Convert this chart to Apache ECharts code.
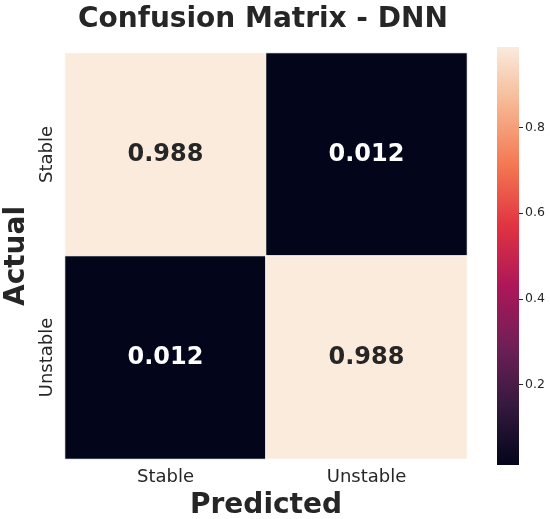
<!DOCTYPE html>
<html>
<head>
    <meta charset="utf-8">
    <script src="https://cdn.jsdelivr.net/npm/echarts@6/dist/echarts.min.js"></script>
    <style type="text/css">
        #main {height:519px;width:550px;position:absolute;}
        body {margin:0px;padding:0px;overflow:hidden;background:#fff;}
    </style>
</head>
<body>
<div id="main"></div>
<script type="text/javascript">
    // data
    const categories = ['Stable', 'Unstable'];
    const matrix = [            // rows = actual, cols = predicted
        [0.988, 0.012],
        [0.012, 0.988]
    ];
    const cbarMin = 0.012;
    const cbarMax = 0.988;
    const cbarTicks = [0.2, 0.4, 0.6, 0.8];

    // seaborn "rocket" colormap, evenly spaced stops
    const rocket = ['#03051a', '#35193e', '#701f57', '#ad1759', '#e13342', '#f37651', '#f6b48f', '#faebdd'];
    const txt = '#262626';
    const font = 'DejaVu Sans';

    let cells = [];
    for (let r = 0; r < matrix.length; r++) {
        for (let c = 0; c < matrix[r].length; c++) {
            let v = matrix[r][c];
            cells.push({
                value: [c, r, v],
                label: {color: v > 0.5 ? txt : '#ffffff'}
            });
        }
    }

    let myChart = echarts.init(document.getElementById('main'));
    let option = {
        animation: false,
        textStyle: {fontFamily: font},
        title: {
            text: 'Confusion Matrix - DNN',
            left: 73,
            top: 1,
            textStyle: {fontSize: 28, fontWeight: 'bold', color: txt, fontFamily: font}
        },
        visualMap: {
            show: false,
            seriesIndex: 0,
            dimension: 2,
            min: cbarMin,
            max: cbarMax,
            inRange: {color: rocket}
        },
        grid: [
            {left: 65, top: 53, width: 402, height: 406, outerBoundsMode: 'none'},
            {left: 497, top: 47, width: 22, height: 418, outerBoundsMode: 'none'}
        ],
        xAxis: [
            {
                type: 'category',
                gridIndex: 0,
                data: categories,
                position: 'bottom',
                axisLine: {show: false},
                axisTick: {show: false},
                splitLine: {show: false},
                axisLabel: {fontSize: 18, color: txt, margin: 9},
                name: 'Predicted',
                nameLocation: 'middle',
                nameGap: 33,
                nameMoveOverlap: false,
                nameTextStyle: {fontSize: 28, fontWeight: 'bold', color: txt}
            },
            {
                type: 'category',
                gridIndex: 1,
                data: ['cbar'],
                show: false
            }
        ],
        yAxis: [
            {
                type: 'category',
                gridIndex: 0,
                data: categories,
                inverse: true,
                axisLine: {show: false},
                axisTick: {show: false},
                splitLine: {show: false},
                axisLabel: {fontSize: 18, color: txt, rotate: 90, margin: 9},
                name: 'Actual',
                nameLocation: 'middle',
                nameRotate: 90,
                nameGap: 34,
                nameMoveOverlap: false,
                nameTextStyle: {fontSize: 28, fontWeight: 'bold', color: txt}
            },
            {
                type: 'value',
                gridIndex: 1,
                position: 'right',
                min: cbarMin,
                max: cbarMax,
                axisLine: {show: false},
                splitLine: {show: false},
                axisTick: {show: true, length: 4, customValues: cbarTicks, lineStyle: {color: txt}},
                axisLabel: {
                    fontSize: 12.5, color: txt, margin: 6,
                    customValues: cbarTicks,
                    formatter: function (v) { return v.toFixed(1); }
                }
            }
        ],
        series: [
            {
                type: 'heatmap',
                xAxisIndex: 0,
                yAxisIndex: 0,
                data: cells,
                itemStyle: {borderColor: '#ffffff', borderWidth: 1},
                label: {
                    show: true,
                    fontSize: 24,
                    fontWeight: 'bold',
                    fontFamily: font,
                    formatter: function (p) { return p.value[2].toFixed(3); }
                },
                emphasis: {disabled: true}
            },
            {
                type: 'bar',
                xAxisIndex: 1,
                yAxisIndex: 1,
                data: [cbarMax],
                barWidth: '100%',
                silent: true,
                itemStyle: {
                    color: new echarts.graphic.LinearGradient(0, 1, 0, 0,
                        rocket.map(function (c, i) { return {offset: i / (rocket.length - 1), color: c}; }))
                }
            }
        ]
    };
    myChart.setOption(option);
    window.onresize = myChart.resize;
</script>
</body>
</html>
